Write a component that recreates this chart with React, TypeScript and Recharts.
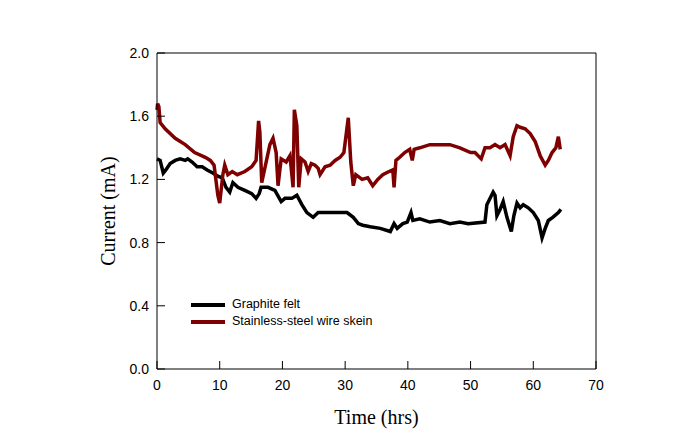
import { LineChart, Line, XAxis, YAxis, ReferenceLine } from "recharts";

// Graphite felt anode — current over time
const feltTime = [
  0, 0.5, 1, 1.4, 2.1, 2.9, 3.7, 4.5, 4.9, 5.6, 6.4, 7.2, 8, 8.9, 9.7, 10.4, 11, 11.6, 12.1, 12.9,
  14, 15.1, 15.8, 16.3, 16.6, 17.7, 18.8, 19.8, 20.4, 21.5, 22.3, 23.1, 23.9, 24.9, 25.7, 26.8, 28.1,
  29.2, 30.3, 31.3, 32.1, 32.8, 34, 35.6, 37.2, 37.8, 38.3, 39.2, 39.9, 40.5, 40.8, 41.9, 43.5, 45.1,
  46.7, 48.3, 49.6, 52.3, 52.6, 53.6, 53.9, 54.2, 54.7, 55.2, 55.8, 56.5, 56.9, 57.4, 57.9, 58.4, 59.2,
  60, 60.8, 61.4, 61.9, 62.4, 63.1, 64, 64.4,
];
const feltCurrent = [
  1.33, 1.32, 1.24, 1.26, 1.3, 1.32, 1.33, 1.32, 1.33, 1.31, 1.28, 1.28, 1.26, 1.24, 1.22, 1.21, 1.15, 1.12, 1.18, 1.15,
  1.13, 1.11, 1.08, 1.11, 1.15, 1.15, 1.13, 1.06, 1.08, 1.08, 1.1, 1.04, 0.99, 0.96, 0.99, 0.99, 0.99,
  0.99, 0.99, 0.96, 0.92, 0.91, 0.9, 0.89, 0.87, 0.92, 0.89, 0.92, 0.93, 0.99, 0.94, 0.95, 0.93, 0.94,
  0.92, 0.93, 0.92, 0.93, 1.04, 1.12, 1.1, 0.97, 1.01, 1.06, 0.96, 0.87, 0.97, 1.05, 1.02, 1.04, 1.02,
  0.99, 0.94, 0.83, 0.89, 0.94, 0.96, 0.99, 1.01,
];

// Stainless-steel wire skein anode
const skeinTime = [
  0, 0.1, 0.3, 0.5, 1.3, 2.9, 4.5, 6, 7.7, 8.5, 9.1, 9.7, 10, 10.5, 10.8, 11.3, 12, 12.8, 14, 15.1,
  15.8, 16.2, 16.4, 16.7, 18, 18.5, 19, 19.3, 19.8, 20.6, 21.2, 21.7, 21.9, 22.3, 22.6, 23, 23.6, 24.1,
  24.6, 25.2, 25.7, 26, 26.8, 27.6, 28.4, 29.2, 29.8, 30.5, 30.9, 31.3, 31.7, 32.7, 33.6, 34.4, 35.2,
  36, 37, 37.6, 37.8, 38.1, 38.7, 39.5, 40.3, 40.7, 41, 41.9, 43.5, 45, 46.7, 48.3, 50, 50.7, 51.7,
  52.3, 53.1, 53.9, 54.7, 55.5, 56.3, 56.8, 57.4, 57.9, 58.7, 59.5, 60.3, 61.1, 61.9, 62.4, 63, 63.6,
  64, 64.3,
];
const skeinCurrent = [
  1.64, 1.68, 1.66, 1.56, 1.52, 1.46, 1.42, 1.37, 1.34, 1.32, 1.29, 1.1, 1.05, 1.23, 1.29, 1.23, 1.25, 1.23, 1.25, 1.28,
  1.32, 1.57, 1.5, 1.18, 1.42, 1.46, 1.37, 1.16, 1.33, 1.31, 1.35, 1.15, 1.64, 1.54, 1.15, 1.33, 1.31, 1.25,
  1.3, 1.29, 1.27, 1.23, 1.28, 1.29, 1.32, 1.34, 1.37, 1.59, 1.31, 1.16, 1.23, 1.2, 1.21, 1.16, 1.2,
  1.23, 1.25, 1.26, 1.15, 1.32, 1.34, 1.37, 1.39, 1.32, 1.39, 1.4, 1.42, 1.42, 1.42, 1.4, 1.37, 1.37, 1.33,
  1.4, 1.4, 1.42, 1.4, 1.42, 1.35, 1.47, 1.54, 1.53, 1.52, 1.49, 1.44, 1.35, 1.29, 1.32, 1.37, 1.4,
  1.47, 1.39,
];

const xTicks = [0, 10, 20, 30, 40, 50, 60, 70];
const yTicks = [0, 0.4, 0.8, 1.2, 1.6, 2.0];

const feltData = feltTime.map((t, i) => ({ t, current: feltCurrent[i] }));
const skeinData = skeinTime.map((t, i) => ({ t, current: skeinCurrent[i] }));

const SANS = "'Liberation Sans', Arial, sans-serif";
const SERIF = "'Liberation Serif', 'Times New Roman', serif";
const RED = "#7f0000";

const series = [
  { name: "Graphite felt", data: feltData, color: "#000" },
  { name: "Stainless-steel wire skein", data: skeinData, color: RED },
];

// ticks point inward, labels sit outside
const XTick = ({ x, y, payload }: any) => (
  <g>
    <line x1={x} y1={y} x2={x} y2={y - 8} stroke="#000" />
    <text x={x} y={y + 21} textAnchor="middle" fontSize={14} fontFamily={SANS} fill="#000">
      {payload.value}
    </text>
  </g>
);

const YTick = ({ x, y, payload }: any) => (
  <g>
    <line x1={x} y1={y} x2={x + 8} y2={y} stroke="#000" />
    <text x={x - 8} y={y + 5} textAnchor="end" fontSize={14} fontFamily={SANS} fill="#000">
      {Number(payload.value).toFixed(1)}
    </text>
  </g>
);

export default function App() {
  return (
    <div style={{ position: "absolute", left: 0, top: 0, width: 689, height: 440, background: "#fff" }}>
      <LineChart width={689} height={440} margin={{ top: 53, right: 93, left: 97, bottom: 11 }}>
        <XAxis
          dataKey="t"
          type="number"
          domain={[0, 70]}
          ticks={xTicks}
          allowDuplicatedCategory={false}
          height={60}
          tickSize={0}
          tickMargin={0}
          tickLine={false}
          tick={<XTick />}
          axisLine={{ stroke: "#000" }}
          label={{ value: "Time (hrs)", position: "insideBottom", offset: 5, fontSize: 20, fontFamily: SERIF, fill: "#000" }}
        />
        <YAxis
          dataKey="current"
          type="number"
          domain={[0, 2]}
          ticks={yTicks}
          width={60}
          tickSize={0}
          tickMargin={0}
          tickLine={false}
          tick={<YTick />}
          axisLine={{ stroke: "#000" }}
          label={{
            value: "Current (mA)",
            angle: -90,
            position: "insideLeft",
            offset: 11,
            fontSize: 20,
            fontFamily: SERIF,
            fill: "#000",
            style: { textAnchor: "middle" },
          }}
        />
        <ReferenceLine y={2} stroke="#000" />
        <ReferenceLine x={70} stroke="#000" />
        {series.map((s) => (
          <Line
            key={s.name}
            data={s.data}
            dataKey="current"
            name={s.name}
            type="linear"
            stroke={s.color}
            strokeWidth={3.5}
            dot={false}
            isAnimationActive={false}
          />
        ))}
      </LineChart>
      {/* legend sits inside the plot, lower left */}
      <div style={{ position: "absolute", left: 191, top: 296, fontFamily: SANS, fontSize: 12.5, color: "#000", lineHeight: "17px" }}>
        {series.map((s) => (
          <div key={s.name} style={{ display: "flex", alignItems: "center" }}>
            <span style={{ display: "inline-block", width: 34, height: 4, background: s.color, marginRight: 7 }} />
            {s.name}
          </div>
        ))}
      </div>
    </div>
  );
}
